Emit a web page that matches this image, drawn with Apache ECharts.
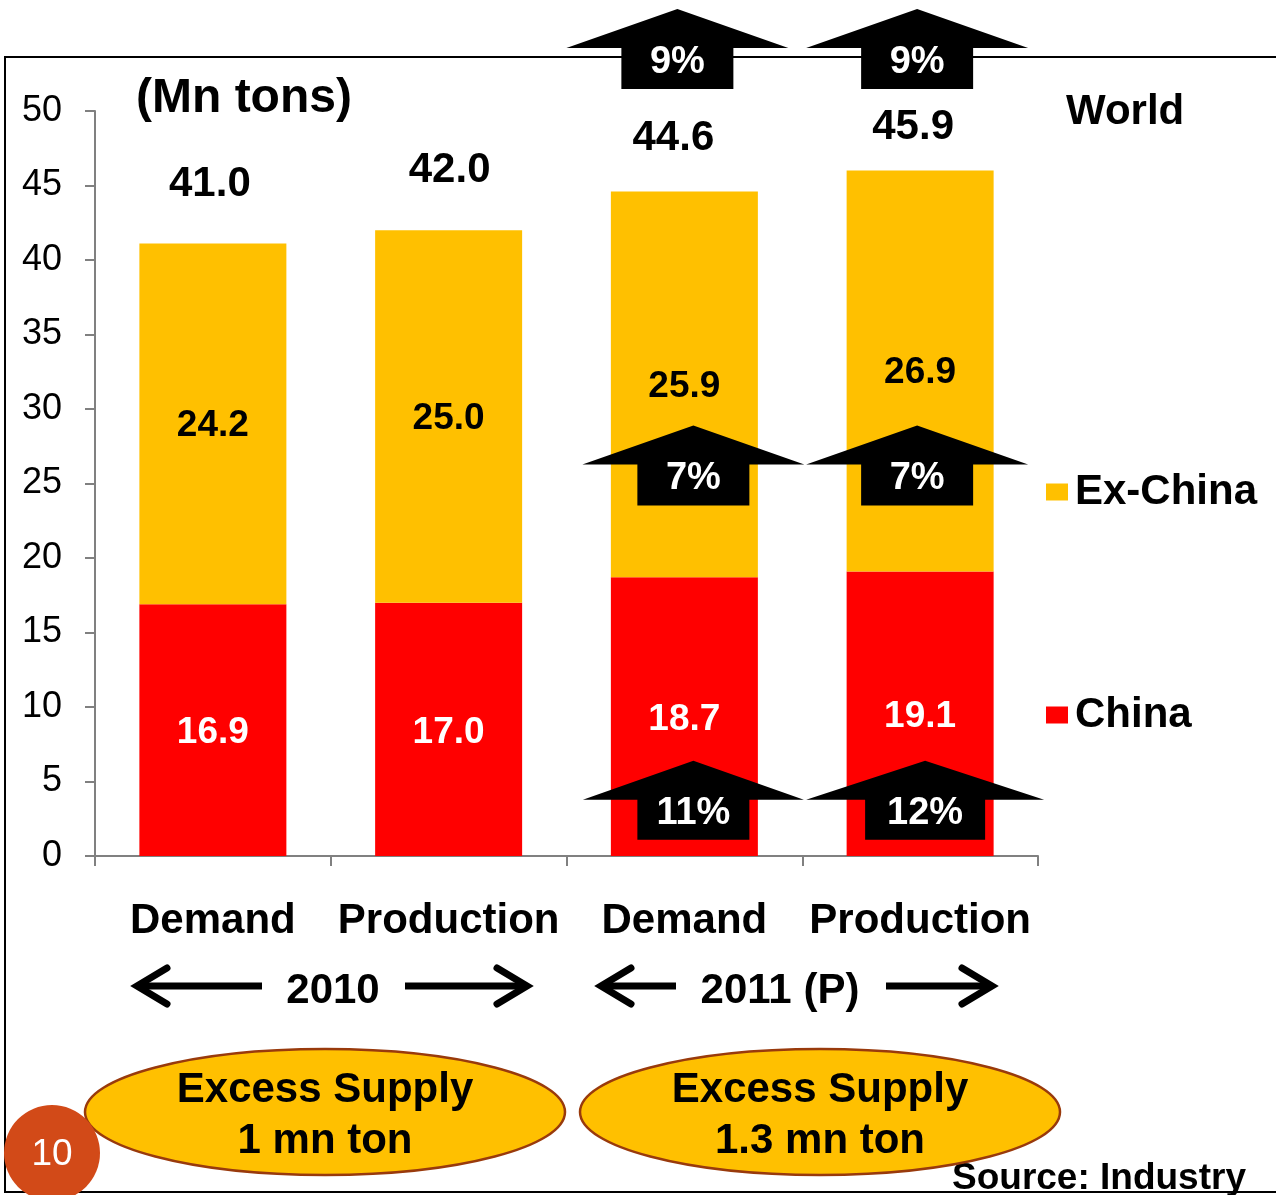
<!DOCTYPE html>
<html><head><meta charset="utf-8">
<script src="https://cdn.jsdelivr.net/npm/echarts@6/dist/echarts.min.js"></script>
<style>html,body{margin:0;padding:0;background:#fff}#c{width:1276px;height:1195px}</style>
</head><body><div id="c"></div>
<script>
var categories = ['Demand', 'Production', 'Demand', 'Production'];
var china = [16.9, 17.0, 18.7, 19.1];
var exChina = [24.2, 25.0, 25.9, 26.9];
var world = [41.0, 42.0, 44.6, 45.9];
var worldGrowth = ['9%', '9%'];      // 2011 Demand, 2011 Production
var exChinaGrowth = ['7%', '7%'];
var chinaGrowth = ['11%', '12%'];
var yTicks = [0, 50, 5];             // min, max, interval
var excessSupply = ['1 mn ton', '1.3 mn ton'];

var FONT = "'Liberation Sans', Arial, sans-serif";
var RED = '#FF0000', GOLD = '#FFC000';

var chart = echarts.init(document.getElementById('c'), null, {renderer: 'canvas'});

// label placement tweaks for the World totals (layout only)
var worldLabelOffset = [[-3, -1], [1, -2], [-11, 5], [-7, 15]];

var option = {
  animation: false,
  backgroundColor: '#ffffff',
  textStyle: {fontFamily: FONT},
  grid: {left: 95, right: 238, top: 111, bottom: 339, containLabel: false},
  legend: {
    orient: 'vertical', left: 1041, top: 466, itemGap: 181,
    itemWidth: 22, itemHeight: 17, icon: 'rect',
    data: ['Ex-China', 'China'],
    textStyle: {fontFamily: FONT, fontWeight: 'bold', fontSize: 42, color: '#000', padding: [0, 0, 0, 2]}
  },
  xAxis: {
    type: 'category', data: categories,
    axisLine: {lineStyle: {color: '#808080', width: 2}},
    axisTick: {show: true, length: 10, lineStyle: {color: '#808080', width: 2}},
    axisLabel: {margin: 44, color: '#000', fontFamily: FONT, fontWeight: 'bold', fontSize: 42, interval: 0}
  },
  yAxis: {
    type: 'value', min: yTicks[0], max: yTicks[1], interval: yTicks[2],
    splitLine: {show: false},
    axisLine: {show: true, lineStyle: {color: '#808080', width: 2}},
    axisTick: {show: true, length: 10, lineStyle: {color: '#808080', width: 2}},
    axisLabel: {margin: 33, color: '#000', fontFamily: FONT, fontSize: 36, padding: [10, 0, 0, 0]}
  },
  series: [
    {
      name: 'China', type: 'bar', stack: 'w', barWidth: 147, data: china,
      itemStyle: {color: RED},
      label: {show: true, position: 'inside', offset: [0, 3], color: '#fff', fontFamily: FONT, fontWeight: 'bold', fontSize: 37,
        formatter: function (p) { return p.value.toFixed(1); }}
    },
    {
      name: 'Ex-China', type: 'bar', stack: 'w', barWidth: 147, data: exChina,
      itemStyle: {color: GOLD},
      label: {show: true, position: 'inside', offset: [0, 2], color: '#000', fontFamily: FONT, fontWeight: 'bold', fontSize: 37,
        formatter: function (p) { return p.value.toFixed(1); }}
    },
    {
      name: 'World', type: 'bar', stack: 'w', barWidth: 147,
      data: world.map(function (v, i) {
        return {value: 0, label: {offset: worldLabelOffset[i]}};
      }),
      itemStyle: {color: 'rgba(0,0,0,0)'},
      label: {show: true, position: 'top', distance: 37, color: '#000', fontFamily: FONT, fontWeight: 'bold', fontSize: 42,
        formatter: function (p) { return world[p.dataIndex].toFixed(1); }},
      silent: true
    }
  ]
};
chart.setOption(option);

function px(cat, val) { return chart.convertToPixel({gridIndex: 0}, [cat, val]); }

function upArrow(cx, apexY, hw, hh, bw, bh, text) {
  var by = apexY + hh;
  return [
    {type: 'polygon', z: 30, shape: {points: [
      [cx - hw / 2, by], [cx, apexY], [cx + hw / 2, by], [cx + bw / 2, by],
      [cx + bw / 2, by + bh], [cx - bw / 2, by + bh], [cx - bw / 2, by]]},
      style: {fill: '#000'}},
    {type: 'text', z: 31, x: cx, y: by + bh / 2 - 6,
      style: {text: text, fill: '#fff', font: 'bold 38px ' + FONT, textAlign: 'center', textVerticalAlign: 'middle'}}
  ];
}

var g = [];
// frame
g.push({type: 'rect', z: 20, shape: {x: 5, y: 57, width: 1290, height: 1135},
  style: {fill: 'none', stroke: '#000', lineWidth: 2}});

// growth arrows (anchored to 2011 bars)
var topY = px(0, 56.85)[1];
var midY = px(0, 28.9)[1];
var botY = px(0, 6.4)[1];
var offTop = [-7, -3], offMid = [9, -3], offBot = [9, 5];
var wBot = [[221, 112], [238, 120]];
for (var i = 0; i < 2; i++) {
  var cx = px(i + 2, 0)[0];
  g = g.concat(upArrow(cx + offTop[i], topY, 222, 39, 112, 41, worldGrowth[i]));
  g = g.concat(upArrow(cx + offMid[i], midY, 222, 39, 112, 41, exChinaGrowth[i]));
  g = g.concat(upArrow(cx + offBot[i], botY, wBot[i][0], 39, wBot[i][1], 40, chinaGrowth[i]));
}

// titles
g.push({type: 'text', z: 25, x: 136, y: 99, style: {text: '(Mn tons)', fill: '#000', font: 'bold 48px ' + FONT, textVerticalAlign: 'middle'}});
g.push({type: 'text', z: 25, x: 1066, y: 112, style: {text: 'World', fill: '#000', font: 'bold 42px ' + FONT, textVerticalAlign: 'middle'}});

// year span arrows
function hArrow(x1, x2, y, dir) {
  var tip = dir > 0 ? x2 : x1;
  return [
    {type: 'line', z: 25, shape: {x1: x1, y1: y, x2: x2, y2: y}, style: {stroke: '#000', lineWidth: 7}},
    {type: 'polyline', z: 25, shape: {points: [[tip - dir * 30, y - 18], [tip, y], [tip - dir * 30, y + 18]]},
      style: {stroke: '#000', lineWidth: 7, lineCap: 'round', lineJoin: 'miter', fill: 'none'}}
  ];
}
var yr = 986;
g = g.concat(hArrow(137, 262, yr, -1), hArrow(405, 527, yr, 1));
g = g.concat(hArrow(601, 676, yr, -1), hArrow(886, 992, yr, 1));
g.push({type: 'text', z: 25, x: 333, y: 991, style: {text: '2010', fill: '#000', font: 'bold 42px ' + FONT, textAlign: 'center', textVerticalAlign: 'middle'}});
g.push({type: 'text', z: 25, x: 780, y: 991, style: {text: '2011 (P)', fill: '#000', font: 'bold 42px ' + FONT, textAlign: 'center', textVerticalAlign: 'middle'}});

// excess supply ellipses
var ell = [[325, 1112], [820, 1112]];
for (var k = 0; k < 2; k++) {
  g.push({type: 'ellipse', z: 22, shape: {cx: ell[k][0], cy: ell[k][1], rx: 240, ry: 63},
    style: {fill: GOLD, stroke: '#993A0C', lineWidth: 2.5}});
  g.push({type: 'text', z: 23, x: ell[k][0], y: 1090, style: {text: 'Excess Supply', fill: '#000', font: 'bold 42px ' + FONT, textAlign: 'center', textVerticalAlign: 'middle'}});
  g.push({type: 'text', z: 23, x: ell[k][0], y: 1141, style: {text: excessSupply[k], fill: '#000', font: 'bold 42px ' + FONT, textAlign: 'center', textVerticalAlign: 'middle'}});
}

// source
g.push({type: 'text', z: 15, x: 952, y: 1179, style: {text: 'Source: Industry', fill: '#000', font: 'bold 37px ' + FONT, textVerticalAlign: 'middle'}});

// page number badge
g.push({type: 'circle', z: 26, shape: {cx: 52, cy: 1153, r: 48}, style: {fill: '#D24A18'}});
g.push({type: 'text', z: 27, x: 52, y: 1155, style: {text: '10', fill: '#fff', font: '37px ' + FONT, textAlign: 'center', textVerticalAlign: 'middle'}});

chart.setOption({graphic: {elements: g}});
</script>
</body></html>
